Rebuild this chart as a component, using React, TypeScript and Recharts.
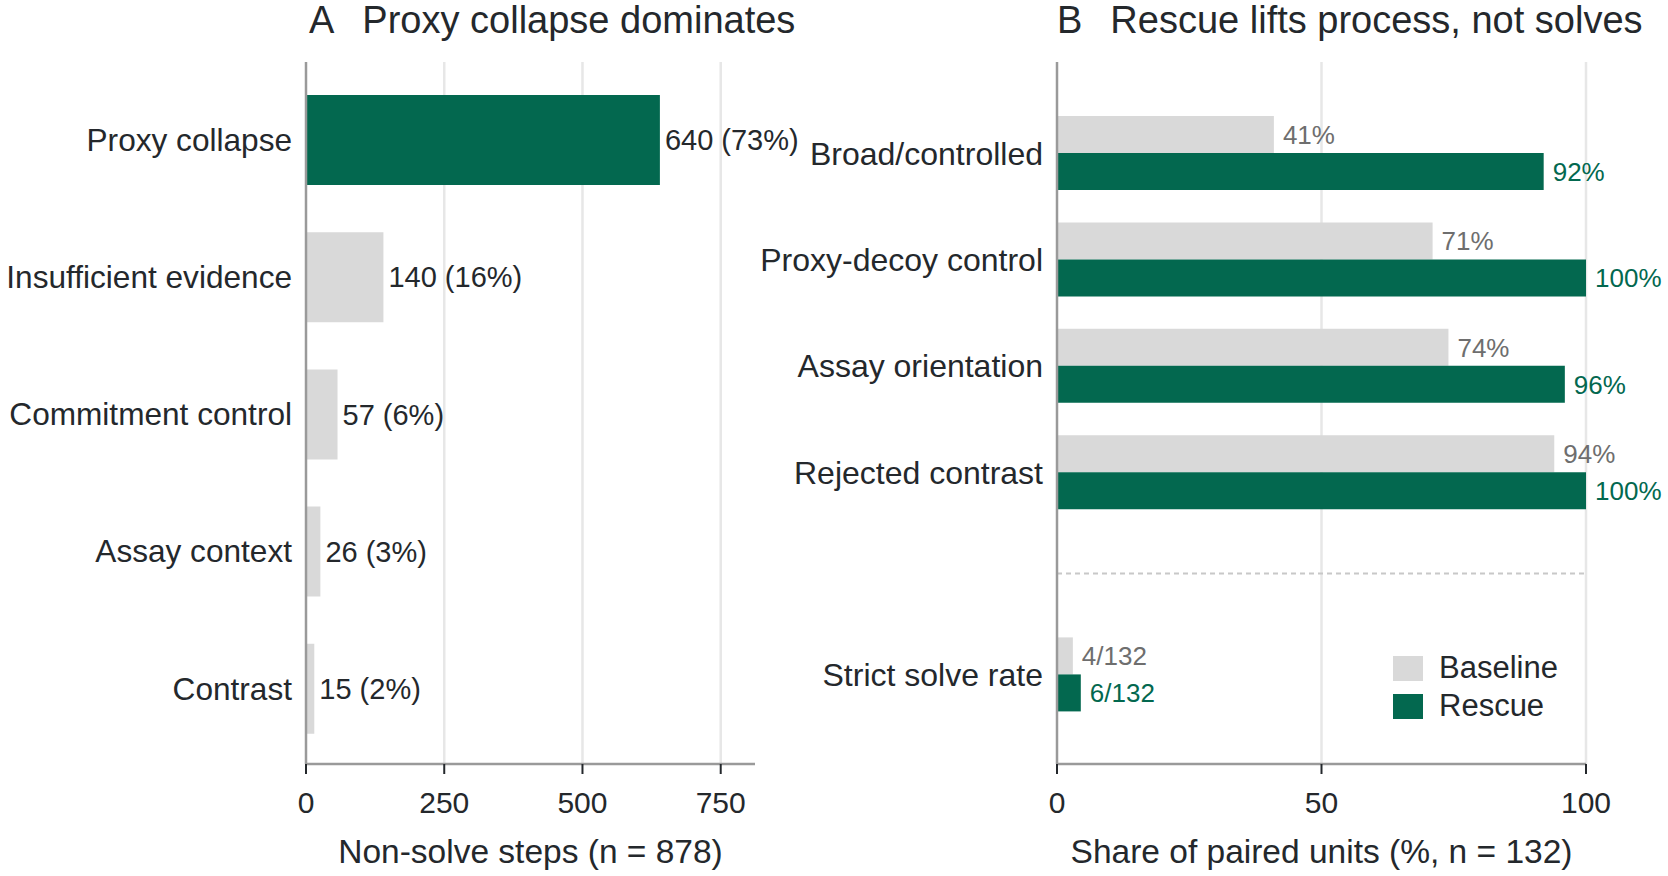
import React from "react";
import {
  BarChart,
  Bar,
  XAxis,
  YAxis,
  Cell,
  LabelList,
  ReferenceLine,
  Legend,
} from "recharts";

const FONT = '"Liberation Sans", Arial, Helvetica, sans-serif';
const INK = "#24282c";
const GREEN = "#03684f";
const LIGHT = "#d9d9d9";
const AXIS = "#9a9a9a";
const GRID = "#e7e7e7";

// Panel A: where the non-solve steps went
const failureModes = [
  "Proxy collapse",
  "Insufficient evidence",
  "Commitment control",
  "Assay context",
  "Contrast",
];
const failureCounts = [640, 140, 57, 26, 15];
const failurePct = [73, 16, 6, 3, 2];
const stepTicks = [0, 250, 500, 750];

// Panel B: baseline vs rescue, per check
const checks = [
  "Broad/controlled",
  "Proxy-decoy control",
  "Assay orientation",
  "Rejected contrast",
  "Strict solve rate",
];
const checkPos = [0, 1, 2, 3, 4.9];
const baselineShare = [41, 71, 74, 94, 3.0];
const rescueShare = [92, 100, 96, 100, 4.5];
const baselineText = ["41%", "71%", "74%", "94%", "4/132"];
const rescueText = ["92%", "100%", "96%", "100%", "6/132"];
const shareTicks = [0, 50, 100];
const dividerPos = 3.95;

const dataA = failureModes.map((name, i) => ({
  name,
  count: failureCounts[i],
  label: `${failureCounts[i]} (${failurePct[i]}%)`,
}));

const dataB = checks.map((name, i) => ({
  name,
  pos: checkPos[i],
  baseline: baselineShare[i],
  rescue: rescueShare[i],
  baseLabel: baselineText[i],
  rescueLabel: rescueText[i],
}));

const axisLine = { stroke: AXIS, strokeWidth: 2.5 };
const xTickText = { fill: INK, fontSize: 30 };

// vertical grid lines at the x ticks only (none at the domain end)
function gridLines(ticks: number[]) {
  return ticks
    .filter((t) => t > 0)
    .map((t) => (
      <ReferenceLine key={`grid-${t}`} x={t} stroke={GRID} strokeWidth={2.5} zIndex={-100} />
    ));
}

function renderLegend(props: any) {
  const payload = props.payload || [];
  return (
    <div style={{ display: "flex", flexDirection: "column", gap: 8 }}>
      {payload.map((p: any) => (
        <div key={p.value} style={{ display: "flex", alignItems: "center", height: 30 }}>
          <span style={{ width: 30, height: 25, background: p.color, marginRight: 16, display: "inline-block" }} />
          <span style={{ fontSize: 31, color: INK, lineHeight: "30px" }}>{p.value}</span>
        </div>
      ))}
    </div>
  );
}

function Title({ left, letter, text }: { left: number; letter: string; text: string }) {
  return (
    <div style={{ position: "absolute", left, top: 1, fontSize: 38, lineHeight: "38px", color: INK, whiteSpace: "nowrap" }}>
      <span>{letter}</span>
      <span style={{ marginLeft: 28 }}>{text}</span>
    </div>
  );
}

export default function App() {
  return (
    <div
      style={{
        position: "absolute",
        left: 0,
        top: 0,
        width: 1668,
        height: 876,
        background: "#fff",
        fontFamily: FONT,
        overflow: "hidden",
      }}
    >
      <Title left={309} letter="A" text="Proxy collapse dominates" />
      <Title left={1057} letter="B" text="Rescue lifts process, not solves" />

      <div style={{ position: "absolute", left: 0, top: 0 }}>
        <BarChart
          width={834}
          height={876}
          data={dataA}
          layout="vertical"
          margin={{ top: 62, right: 79, bottom: 0, left: 0 }}
        >
          {gridLines(stepTicks)}
          <XAxis
            type="number"
            domain={[0, 812]}
            ticks={stepTicks}
            allowDataOverflow
            height={112}
            axisLine={axisLine}
            tickLine={{ stroke: INK, strokeWidth: 2 }}
            tickSize={10}
            tickMargin={18}
            tick={xTickText}
            label={{ value: "Non-solve steps (n = 878)", position: "insideBottom", offset: 13, fill: INK, fontSize: 33.5 }}
          />
          <YAxis
            type="category"
            dataKey="name"
            width={306}
            padding={{ top: 9, bottom: 7 }}
            axisLine={axisLine}
            tickLine={false}
            tickSize={6}
            tickMargin={8}
            tick={{ fill: INK, fontSize: 31.6 }}
            interval={0}
          />
          <Bar dataKey="count" barSize={90} isAnimationActive={false}>
            {dataA.map((d, i) => (
              <Cell key={d.name} fill={i === 0 ? GREEN : LIGHT} />
            ))}
            <LabelList dataKey="label" position="right" offset={5} fill={INK} fontSize={29} />
          </Bar>
        </BarChart>
      </div>

      <div style={{ position: "absolute", left: 680, top: 0 }}>
        <BarChart
          width={988}
          height={876}
          data={dataB}
          layout="vertical"
          barGap={0}
          margin={{ top: 62, right: 82, bottom: 0, left: 0 }}
        >
          {gridLines(shareTicks)}
          <XAxis
            type="number"
            domain={[0, 100]}
            ticks={shareTicks}
            allowDataOverflow
            height={112}
            axisLine={axisLine}
            tickLine={{ stroke: INK, strokeWidth: 2 }}
            tickSize={10}
            tickMargin={18}
            tick={xTickText}
            label={{ value: "Share of paired units (%, n = 132)", position: "insideBottom", offset: 13, fill: INK, fontSize: 33.5 }}
          />
          <YAxis
            type="number"
            dataKey="pos"
            domain={[-0.857, 5.74]}
            allowDataOverflow
            ticks={checkPos}
            interval={0}
            tickFormatter={(v: number) => checks[checkPos.indexOf(v)] ?? ""}
            width={377}
            axisLine={axisLine}
            tickLine={false}
            tickSize={6}
            tickMargin={8}
            tick={{ fill: INK, fontSize: 32 }}
          />
          <ReferenceLine y={dividerPos} stroke="#c8c8c8" strokeDasharray="5 4" strokeWidth={2} />
          <Bar dataKey="baseline" name="Baseline" fill={LIGHT} barSize={37} isAnimationActive={false}>
            <LabelList dataKey="baseLabel" position="right" offset={9} fill="#6e6e6e" fontSize={26} />
          </Bar>
          <Bar dataKey="rescue" name="Rescue" fill={GREEN} barSize={37} isAnimationActive={false}>
            <LabelList dataKey="rescueLabel" position="right" offset={9} fill={GREEN} fontSize={26} />
          </Bar>
          <Legend
            layout="vertical"
            align="center"
            verticalAlign="middle"
            content={renderLegend}
            wrapperStyle={{ left: 713, top: 653, width: "auto" }}
          />
        </BarChart>
      </div>
    </div>
  );
}
